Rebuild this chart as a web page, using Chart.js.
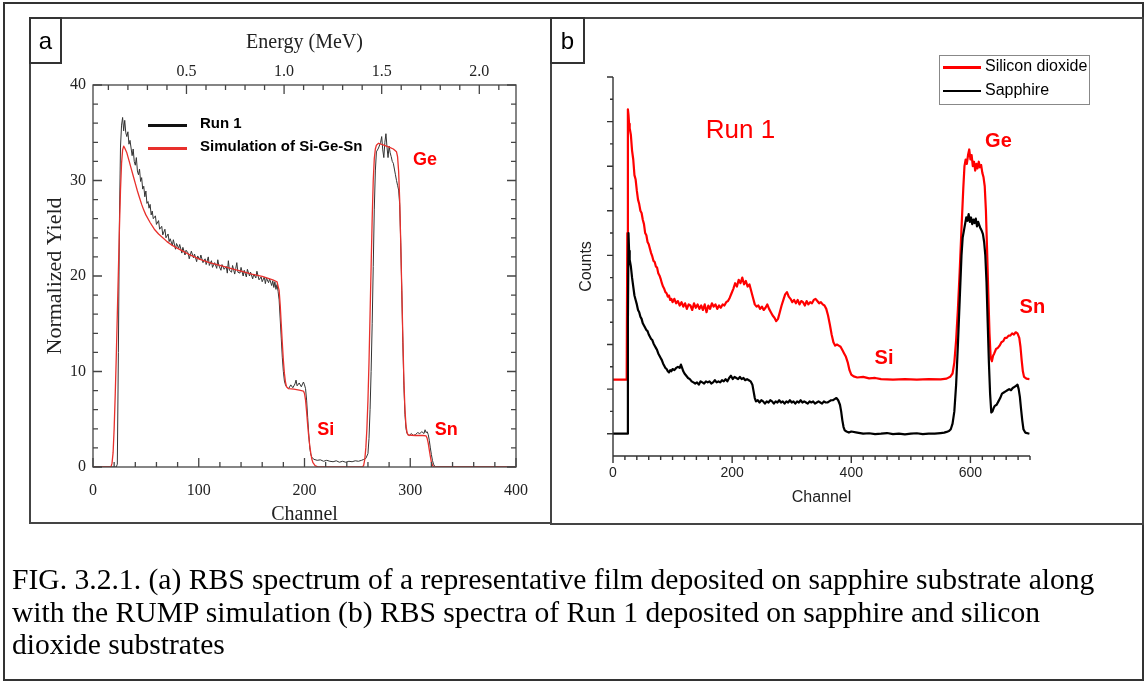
<!DOCTYPE html>
<html><head><meta charset="utf-8">
<script src="https://cdn.jsdelivr.net/npm/chart.js@4.4.0/dist/chart.umd.min.js"></script>
<style>
body{margin:0;background:#fff;}
#page{position:relative;width:1146px;height:683px;overflow:hidden;background:#fff;}
.abs{position:absolute;box-sizing:border-box;}
.sans{font-family:'Liberation Sans',Arial,sans-serif;}
.lbl{font-size:24px;display:flex;align-items:center;justify-content:center;border:2px solid #333;}
.legtxt{white-space:nowrap;line-height:1;}
</style></head><body>
<div id="page">
  <canvas id="ca" class="abs" style="left:31px;top:20px" width="519" height="506"></canvas>
  <canvas id="cb" class="abs" style="left:552px;top:20px" width="590" height="503"></canvas>

  <!-- frames -->
  <div class="abs" style="left:3px;top:2px;width:1141px;height:679px;border:2px solid #333;"></div>
  <div class="abs" style="left:29px;top:17px;width:523px;height:507px;border:2px solid #444;"></div>
  <div class="abs" style="left:550px;top:17px;width:594px;height:508px;border:2px solid #444;"></div>
  <div class="abs lbl sans" style="left:29px;top:17px;width:33px;height:47px;">a</div>
  <div class="abs lbl sans" style="left:550px;top:17px;width:35px;height:47px;">b</div>

  <!-- legend a -->
  <div class="abs" style="left:148px;top:124px;width:39px;height:2.5px;background:#111;"></div>
  <div class="abs" style="left:148px;top:147px;width:39px;height:2.5px;background:#e8302c;"></div>
  <div class="abs sans legtxt" style="left:200px;top:115px;font-size:15px;font-weight:bold;">Run 1</div>
  <div class="abs sans legtxt" style="left:200px;top:138px;font-size:15px;font-weight:bold;">Simulation of Si-Ge-Sn</div>

  <!-- legend b -->
  <div class="abs" style="left:939px;top:55px;width:151px;height:50px;border:1px solid #888;"></div>
  <div class="abs" style="left:943px;top:66px;width:38px;height:2.5px;background:#ff0000;"></div>
  <div class="abs" style="left:943px;top:89.5px;width:38px;height:2.5px;background:#000;"></div>
  <div class="abs sans legtxt" style="left:985px;top:58px;font-size:16px;">Silicon dioxide</div>
  <div class="abs sans legtxt" style="left:985px;top:82px;font-size:16px;">Sapphire</div>

  <!-- caption -->
  <div class="abs" style="left:12px;top:563px;font-family:'Liberation Serif','Times New Roman',serif;font-size:29.6px;line-height:32.5px;white-space:nowrap;color:#000;">FIG. 3.2.1. (a) RBS spectrum of a representative film deposited on sapphire substrate along<br>with the RUMP simulation (b) RBS spectra of Run 1 deposited on sapphire and silicon<br>dioxide substrates</div>
</div>
<script>
// ================= Panel (a) data =================
const RUN1_CH = [0,22,23,24,25,26,27,28,29,30,31,32,33,34,35,36,37,38,39,40,41,42,43,44,45,46,47,48,49,50,51,52,53,54,55,56,57,59,60,62,63,65,66,68,69,71,72,73,75,76,78,79,81,82,84,85,87,88,90,91,93,95,96,98,99,101,102,104,106,107,109,110,112,113,115,117,118,119,121,122,124,126,127,128,129,131,132,134,135,136,137,139,140,142,143,145,146,148,149,151,152,154,155,157,159,160,162,163,164,166,167,169,170,171,172,173,174,175,176,177,178,179,180,181,182,183,185,187,189,191,192,193,195,197,199,200,201,202,203,204,205,206,207,209,212,215,218,221,224,227,230,233,236,239,242,245,248,251,254,256,258,260,261,262,263,264,265,266,267,268,270,272,273,274,275,276,277,278,279,280,281,282,283,284,285,286,287,288,289,290,291,292,293,294,295,296,297,299,301,303,305,307,309,311,313,314,315,316,317,318,319,320,321,322,323,324,400];
const RUN1_Y = [0,0,0.3,12,26,33.5,35.8,36.6,35.2,36.3,35.0,34.6,35.1,33.8,34.2,33.4,32.6,33.3,32.0,31.6,32.4,31.0,30.6,31.2,29.9,30.3,29.1,29.4,28.3,28.9,27.6,27.8,27.1,27.5,26.4,26.8,26.0,26.3,25.4,25.8,24.9,25.2,24.3,24.9,24.0,24.4,23.6,23.9,23.2,23.8,22.8,23.4,22.9,23.3,22.4,23.0,22.2,22.7,22.4,21.8,22.6,21.9,22.3,21.5,22.1,21.7,22.2,21.4,21.8,21.2,22.0,21.1,21.6,20.9,21.4,20.8,21.7,21.1,20.6,21.2,20.7,21.0,20.3,21.6,20.6,20.4,21.1,20.2,20.8,21.4,20.4,20.3,20.9,20.0,20.6,19.9,20.7,20.0,20.4,19.7,20.2,19.8,20.5,19.6,19.9,19.4,19.9,19.2,19.8,19.3,19.7,19.0,19.5,18.8,19.4,18.6,19.1,18.4,17.5,15.5,13.5,11.5,10.0,9.0,8.6,8.4,8.2,8.6,8.3,8.7,9.1,8.5,8.8,8.4,8.9,8.6,8.2,7.0,5.2,3.5,2.0,1.3,1.0,0.8,0.7,0.75,0.6,0.7,0.6,0.55,0.65,0.5,0.6,0.5,0.6,0.55,0.65,0.6,0.7,0.8,0.9,1.4,3,6,10,15,21,27,31,33,33.4,34.0,34.6,33.2,32.4,34.0,34.9,33.5,32.4,33.6,32.9,32.5,32.0,31.8,31.2,30.6,30.0,29.5,29.0,27.5,23.5,18.5,13,8.5,5.5,4.0,3.5,3.3,3.5,3.3,3.4,3.6,3.5,3.7,3.5,3.9,3.6,3.7,3.4,2.8,2.0,1.3,0.7,0.3,0.1,0,0];
const SIM_CH = [0,17,18,19,20,21,22,23,24,25,26,27,28,29,30,32,34,36,38,40,42,44,46,48,50,54,58,62,66,70,75,80,85,90,95,100,110,120,130,140,150,160,170,174,176,177,178,179,180,181,182,183,185,190,195,199,200,201,202,203,204,205,206,207,208,210,213,255,256,257,258,259,260,261,262,263,264,265,266,267,268,270,275,280,284,287,288,289,290,291,292,293,294,295,296,297,298,305,312,315,316,317,318,319,320,321,322,400];
const SIM_Y = [0,0,0.4,1.5,4,7.5,11.5,16,20.5,25,29,31.8,33.2,33.6,33.4,32.9,32.1,31.3,30.5,29.7,28.9,28.2,27.5,26.9,26.4,25.6,24.9,24.4,24.0,23.6,23.2,22.9,22.6,22.3,22.05,21.8,21.4,21.1,20.8,20.5,20.2,19.95,19.6,19.4,18.5,17.0,15.0,13.0,11.2,9.8,8.9,8.4,8.2,8.15,8.05,7.95,7.7,7.0,5.8,4.4,3.2,2.2,1.4,0.8,0.45,0.15,0,0,0.2,0.8,2,4,7,11,16,21,26,30,32.3,33.3,33.7,33.9,33.7,33.5,33.3,33.0,32.5,31.0,28.0,23.5,18.5,13.5,9.0,6.0,4.3,3.6,3.35,3.3,3.3,3.25,3.0,2.5,1.8,1.1,0.5,0.2,0,0];
const A_X_RANGE = [0, 400];
const A_Y_RANGE = [0, 40];
const ENERGY_RANGE = [0.0212, 2.188];
const ENERGY_TICKS = [0.5, 1.0, 1.5, 2.0];
const A_NOTES = [{t:'Ge', x:314, y:32.1}, {t:'Si', x:220, y:3.9}, {t:'Sn', x:334, y:3.9}];

// ================= Panel (b) data =================
const SIO2_CH = [0,22,23,24,25,26,27,28,30,32,34,36,38,40,42,44,46,48,50,52,54,56,58,60,62,64,66,68,70,72,74,76,78,80,82,84,86,88,90,92,94,96,98,100,103,106,109,112,115,118,121,124,127,130,133,136,139,142,145,148,151,154,157,160,163,166,169,172,175,178,181,184,187,190,193,196,199,202,205,208,211,214,217,220,223,226,229,232,235,238,241,244,247,250,253,256,259,262,265,268,271,274,277,280,283,286,289,292,295,298,301,304,307,310,313,316,319,322,325,328,331,334,337,340,343,346,349,352,355,358,361,364,367,370,373,376,379,382,385,388,391,394,397,400,404,410,420,430,440,450,470,490,510,530,550,560,566,570,573,576,579,582,585,588,590,592,594,596,598,600,602,604,606,608,610,612,614,616,618,620,622,624,626,628,630,632,634,636,638,640,643,646,649,652,655,658,661,664,667,670,673,676,679,682,684,686,688,690,694,699];
const SIO2_Y = [3.43,3.43,3.45,10,15.55,15.3,14.9,14.7,14.4,13.7,13.3,12.6,12.4,11.9,11.5,11.3,11.0,10.9,10.6,10.4,10.0,9.9,9.6,9.5,9.3,9.1,8.95,8.75,8.7,8.5,8.45,8.2,8.1,7.95,7.75,7.6,7.5,7.35,7.3,7.15,7.2,7.0,7.05,6.9,7.05,6.85,6.95,6.75,6.9,6.7,6.85,6.6,6.8,6.75,6.55,6.85,6.65,6.8,6.6,6.75,6.55,6.8,6.45,6.75,6.6,6.85,6.7,6.8,6.6,6.75,6.65,6.8,6.75,6.9,6.95,7.1,7.3,7.5,7.75,7.6,7.9,7.75,8.0,7.7,7.85,7.6,7.7,7.4,7.1,6.8,6.7,6.75,6.6,6.7,6.55,6.65,6.8,6.6,6.45,6.3,6.2,6.05,6.15,6.45,6.75,7.0,7.25,7.35,7.15,7.05,6.9,7.0,6.85,7.0,6.8,6.95,6.9,6.75,6.95,6.8,6.9,6.85,7.0,7.05,6.95,6.85,6.9,6.8,6.75,6.6,6.3,5.9,5.45,5.1,4.95,5.0,4.95,4.9,4.75,4.6,4.45,4.2,3.85,3.65,3.57,3.52,3.55,3.48,3.5,3.45,3.43,3.45,3.43,3.45,3.44,3.47,3.55,3.7,4.2,5.2,6.6,8.3,10.2,12.0,13.0,13.3,13.1,13.5,13.75,13.3,13.5,13.0,13.2,12.8,13.1,12.9,13.2,12.95,13.05,12.7,12.5,12.1,11.0,9.2,7.3,5.5,4.4,4.25,4.5,4.6,4.8,4.85,4.95,5.1,5.15,5.3,5.3,5.4,5.4,5.5,5.45,5.55,5.5,5.3,4.9,4.3,3.8,3.55,3.47,3.45];
const SAPH_CH = [0,24,25,26,27,28,30,32,34,36,38,40,42,44,46,48,50,52,54,56,58,60,62,64,66,68,70,72,74,76,78,80,82,84,86,88,90,92,94,96,98,100,103,106,109,112,114,116,118,120,123,126,129,132,135,138,141,144,147,150,153,156,159,162,165,168,171,174,177,180,183,186,189,192,195,198,201,204,207,210,213,216,219,222,225,228,231,234,236,238,240,243,246,249,252,255,258,261,264,267,270,273,276,279,282,285,288,291,294,297,300,303,306,309,312,315,318,321,324,327,330,333,336,339,342,345,348,351,354,357,360,363,366,369,372,375,378,381,383,385,387,389,392,396,400,410,420,430,440,450,460,470,480,490,500,510,520,530,540,550,556,560,564,567,570,573,576,579,582,585,587,589,591,593,595,597,599,601,603,605,607,609,611,613,615,617,619,621,623,625,627,629,631,633,635,637,639,641,644,647,650,653,656,659,662,665,668,671,674,677,679,681,683,685,687,689,692,699];
const SAPH_Y = [1.0,1.0,6,10.0,9.2,8.8,8.5,8.0,7.6,7.2,7.0,6.8,6.55,6.45,6.25,6.15,5.95,5.85,5.75,5.65,5.6,5.45,5.35,5.25,5.2,5.05,4.95,4.85,4.75,4.6,4.5,4.4,4.3,4.15,4.05,3.95,3.9,3.8,3.75,3.85,3.8,3.9,3.85,3.95,4.0,3.95,4.1,3.95,3.8,3.7,3.6,3.5,3.45,3.35,3.3,3.25,3.3,3.2,3.35,3.3,3.25,3.35,3.3,3.35,3.25,3.3,3.4,3.3,3.35,3.3,3.4,3.35,3.45,3.35,3.5,3.6,3.45,3.55,3.5,3.45,3.55,3.45,3.5,3.4,3.45,3.4,3.35,3.2,2.9,2.6,2.45,2.5,2.4,2.5,2.45,2.35,2.45,2.4,2.5,2.45,2.35,2.45,2.4,2.5,2.4,2.45,2.35,2.45,2.4,2.5,2.4,2.45,2.35,2.45,2.4,2.5,2.4,2.45,2.4,2.35,2.45,2.4,2.45,2.35,2.4,2.45,2.4,2.35,2.45,2.4,2.4,2.45,2.5,2.5,2.55,2.6,2.5,2.3,2.0,1.6,1.3,1.15,1.1,1.05,1.1,1.05,1.0,1.02,0.98,1.0,1.03,0.98,1.0,0.97,1.0,1.02,0.98,1.0,1.0,1.03,1.05,1.08,1.12,1.2,1.45,2.0,3.2,5.0,7.0,9.0,9.8,10.1,10.4,10.7,10.55,10.85,10.5,10.7,10.4,10.6,10.45,10.65,10.3,10.5,10.35,10.2,10.1,9.95,9.6,9.0,7.8,5.97,4.2,2.8,1.95,2.0,2.15,2.25,2.3,2.45,2.6,2.8,2.85,2.9,2.95,3.0,2.95,3.05,3.1,3.15,3.2,3.0,2.65,2.1,1.6,1.2,1.05,1.0];
const B_X_RANGE = [0, 700];
const B_Y_RANGE = [0, 17];
const B_X_LABELS = [0, 200, 400, 600];
const B_NOTES = [{t:'Run 1', x:214, y:14.6, bold:false, size:26}, {t:'Ge', x:647, y:14.1, bold:true, size:20}, {t:'Si', x:455, y:4.37, bold:true, size:20}, {t:'Sn', x:704, y:6.64, bold:true, size:20}];

const SERIF = "'Liberation Serif','Times New Roman',serif";
const SANS = "'Liberation Sans',Arial,sans-serif";
function pts(xs, ys){ return xs.map((x,i)=>({x:x, y:ys[i]})); }

const plugA = {
  id:'plugA',
  afterDraw(chart){
    const {ctx, chartArea:a, scales} = chart;
    const x = scales.x, y = scales.y, e = scales.xE;
    ctx.save();
    ctx.strokeStyle = '#444'; ctx.lineWidth = 1.3;
    ctx.strokeRect(a.left, a.top, a.right - a.left, a.bottom - a.top);
    ctx.beginPath();
    for (let v = A_Y_RANGE[0]; v <= A_Y_RANGE[1]; v += 2) {
      const p = y.getPixelForValue(v), L = v % 10 === 0 ? 9 : 5;
      ctx.moveTo(a.left, p); ctx.lineTo(a.left + L, p);
      ctx.moveTo(a.right, p); ctx.lineTo(a.right - L, p);
    }
    for (let v = A_X_RANGE[0]; v <= A_X_RANGE[1]; v += 20) {
      const p = x.getPixelForValue(v), L = v % 100 === 0 ? 9 : 5;
      ctx.moveTo(p, a.bottom); ctx.lineTo(p, a.bottom - L);
    }
    for (let i = 1; i <= 21; i++) {
      const p = e.getPixelForValue(i / 10), L = i % 5 === 0 ? 9 : 5;
      ctx.moveTo(p, a.top); ctx.lineTo(p, a.top + L);
    }
    ctx.stroke();
    ctx.fillStyle = '#ff0000'; ctx.font = 'bold 18px ' + SANS;
    ctx.textAlign = 'center'; ctx.textBaseline = 'middle';
    A_NOTES.forEach(n => ctx.fillText(n.t, x.getPixelForValue(n.x), y.getPixelForValue(n.y)));
    ctx.restore();
  }
};

const plugB = {
  id:'plugB',
  afterDraw(chart){
    const {ctx, chartArea:a, scales} = chart;
    const x = scales.x, y = scales.y;
    ctx.save();
    ctx.strokeStyle = '#333'; ctx.lineWidth = 1.4;
    ctx.beginPath();
    ctx.moveTo(a.left, a.top); ctx.lineTo(a.left, a.bottom);
    ctx.moveTo(a.left, a.bottom); ctx.lineTo(a.right, a.bottom);
    for (let u = 1; u <= B_Y_RANGE[1]; u++) {
      const p = y.getPixelForValue(u), L = u % 2 === 1 ? 6 : 3;
      ctx.moveTo(a.left - L, p); ctx.lineTo(a.left, p);
    }
    for (let c = B_X_RANGE[0]; c <= B_X_RANGE[1]; c += 20) {
      const p = x.getPixelForValue(c), L = c % 200 === 0 ? 7 : 4;
      ctx.moveTo(p, a.bottom); ctx.lineTo(p, a.bottom + L);
    }
    ctx.stroke();
    ctx.fillStyle = '#ff0000'; ctx.textAlign = 'center'; ctx.textBaseline = 'middle';
    B_NOTES.forEach(n => {
      ctx.font = (n.bold ? 'bold ' : '') + n.size + 'px ' + SANS;
      ctx.fillText(n.t, x.getPixelForValue(n.x), y.getPixelForValue(n.y));
    });
    ctx.restore();
  }
};

const common = {
  responsive:false, animation:false, devicePixelRatio:1, events:[],
  plugins:{legend:{display:false}, tooltip:{enabled:false}},
  elements:{point:{radius:0}, line:{tension:0, borderJoinStyle:'round'}}
};

new Chart(document.getElementById('ca'), {
  type:'line',
  data:{datasets:[
    {label:'Simulation of Si-Ge-Sn', data:pts(SIM_CH, SIM_Y), borderColor:'#e8302c', borderWidth:1.3, xAxisID:'x', yAxisID:'y'},
    {label:'Run 1', data:pts(RUN1_CH, RUN1_Y), borderColor:'#333', borderWidth:1.0, xAxisID:'x', yAxisID:'y'}
  ]},
  options:Object.assign({}, common, {
    layout:{padding:{left:0, right:34, top:0, bottom:0}},
    scales:{
      x:{type:'linear', position:'bottom', min:A_X_RANGE[0], max:A_X_RANGE[1],
         grid:{display:false, drawTicks:false}, border:{display:false},
         ticks:{stepSize:100, padding:16, color:'#222', font:{family:SERIF, size:16, lineHeight:1}, maxRotation:0},
         title:{display:true, text:'Channel', color:'#222', font:{family:SERIF, size:20, lineHeight:1}, padding:{top:0, bottom:1}},
         afterFit:s => { s.height = 59; }},
      xE:{type:'linear', position:'top', min:ENERGY_RANGE[0], max:ENERGY_RANGE[1],
         grid:{display:false, drawTicks:false}, border:{display:false},
         afterBuildTicks:s => { s.ticks = ENERGY_TICKS.map(v => ({value:v})); },
         ticks:{padding:5, color:'#222', font:{family:SERIF, size:16, lineHeight:1}, maxRotation:0, callback:v => Number(v).toFixed(1)},
         title:{display:true, text:'Energy (MeV)', color:'#222', font:{family:SERIF, size:20, lineHeight:1}, padding:{top:13, bottom:0}},
         afterFit:s => { s.height = 65; }},
      y:{type:'linear', position:'left', min:A_Y_RANGE[0], max:A_Y_RANGE[1],
         grid:{display:false, drawTicks:false}, border:{display:false},
         ticks:{stepSize:10, padding:7, color:'#222', font:{family:SERIF, size:16, lineHeight:1}},
         title:{display:true, text:'Normalized Yield', color:'#222', font:{family:SERIF, size:22, lineHeight:1}, padding:{top:13, bottom:0}},
         afterFit:s => { s.width = 62; }}
    }
  }),
  plugins:[plugA]
});

new Chart(document.getElementById('cb'), {
  type:'line',
  data:{datasets:[
    {label:'Sapphire', data:pts(SAPH_CH, SAPH_Y), borderColor:'#000', borderWidth:2.2},
    {label:'Silicon dioxide', data:pts(SIO2_CH, SIO2_Y), borderColor:'#ff0000', borderWidth:2.2}
  ]},
  options:Object.assign({}, common, {
    layout:{padding:{left:0, right:112, top:57, bottom:0}},
    scales:{
      x:{type:'linear', position:'bottom', min:B_X_RANGE[0], max:B_X_RANGE[1],
         grid:{display:false, drawTicks:false}, border:{display:false},
         afterBuildTicks:s => { s.ticks = B_X_LABELS.map(v => ({value:v})); },
         ticks:{padding:10, color:'#222', font:{family:SANS, size:14, lineHeight:1}, maxRotation:0},
         title:{display:true, text:'Channel', color:'#222', font:{family:SANS, size:16, lineHeight:1}, padding:{top:0, bottom:17}},
         afterFit:s => { s.height = 67; }},
      y:{type:'linear', position:'left', min:B_Y_RANGE[0], max:B_Y_RANGE[1],
         grid:{display:false, drawTicks:false}, border:{display:false},
         ticks:{display:false},
         title:{display:true, text:'Counts', color:'#222', font:{family:SANS, size:16, lineHeight:1}, padding:{top:27, bottom:0}},
         afterFit:s => { s.width = 61; }}
    }
  }),
  plugins:[plugB]
});
</script>
</body></html>
